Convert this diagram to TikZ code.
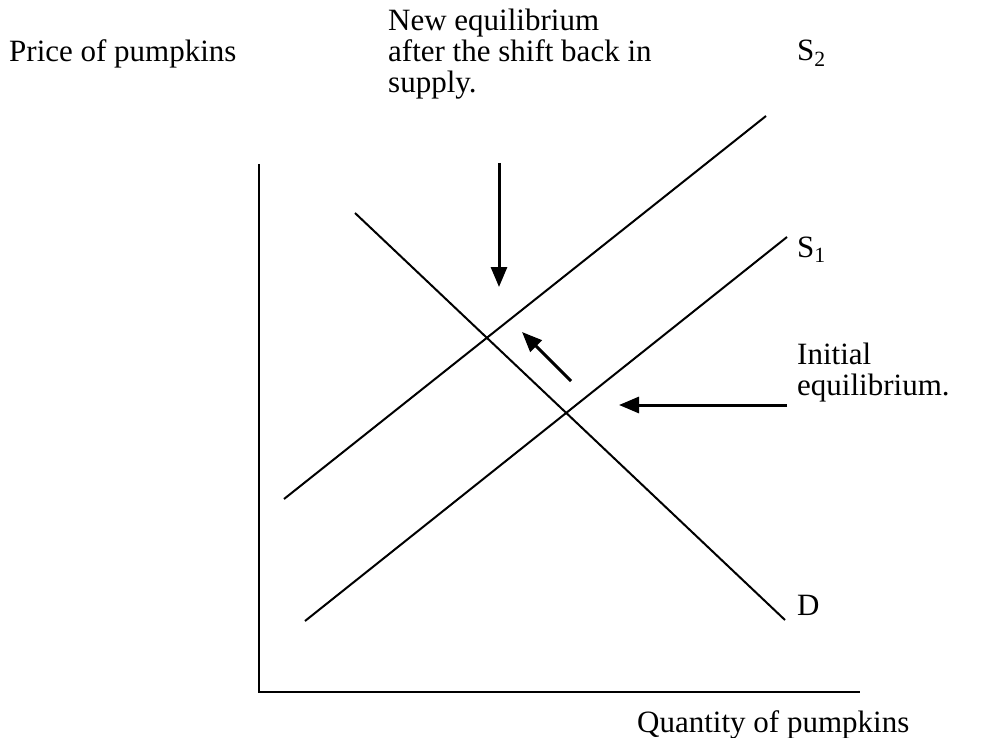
\documentclass[tikz,border=0pt]{standalone}
\usepackage{fontspec}
\setmainfont{Liberation Serif}
\usetikzlibrary{arrows.meta}
\tikzset{
  curve/.style={line width=2pt},
  axisline/.style={line width=2.6pt},
  moveArrow/.style={line width=3pt,-{Triangle[length=20pt,width=16pt]}},
  lbl/.style={anchor=base west,inner sep=0pt,font=\fontsize{31}{31}\selectfont},
}
\begin{document}
\begin{tikzpicture}[x=1pt,y=-1pt]
\useasboundingbox (0,0) rectangle (987,738);
% axes
\coordinate (ytop) at (259,164);
\coordinate (orig) at (259,692);
\coordinate (xend) at (860,692);
\draw[axisline] (ytop) -- (orig) -- (xend);
% curves
\coordinate (s2a) at (284,499); \coordinate (s2b) at (766,116);
\coordinate (s1a) at (305,621); \coordinate (s1b) at (787,237);
\coordinate (da) at (355,213); \coordinate (db) at (785,620);
\draw[curve] (s2a) -- (s2b);
\draw[curve] (s1a) -- (s1b);
\draw[curve] (da) -- (db);
% arrows
\coordinate (a1t) at (499,163); \coordinate (a1h) at (499,287);
\coordinate (a2t) at (571,381); \coordinate (a2h) at (522,332);
\coordinate (a3t) at (787,405); \coordinate (a3h) at (619,405);
\draw[moveArrow] (a1t) -- (a1h);
\draw[moveArrow] (a2t) -- (a2h);
\draw[moveArrow] (a3t) -- (a3h);
% labels
\node[lbl] (price) at (9,62) {Price of pumpkins};
\node[lbl] (new1) at (388,31) {New equilibrium};
\node[lbl] (new2) at (388,62) {after the shift back in};
\node[lbl] (new3) at (388,93) {supply.};
\node[lbl] (s2) at (797,61) {S\textsubscript{2}};
\node[lbl] (s1) at (797,257) {S\textsubscript{1}};
\node[lbl] (init1) at (797,364) {Initial};
\node[lbl] (init2) at (797,395) {equilibrium.};
\node[lbl] (dl) at (797,615) {D};
\node[lbl] (qty) at (637,732) {Quantity of pumpkins};
\end{tikzpicture}
\end{document}
